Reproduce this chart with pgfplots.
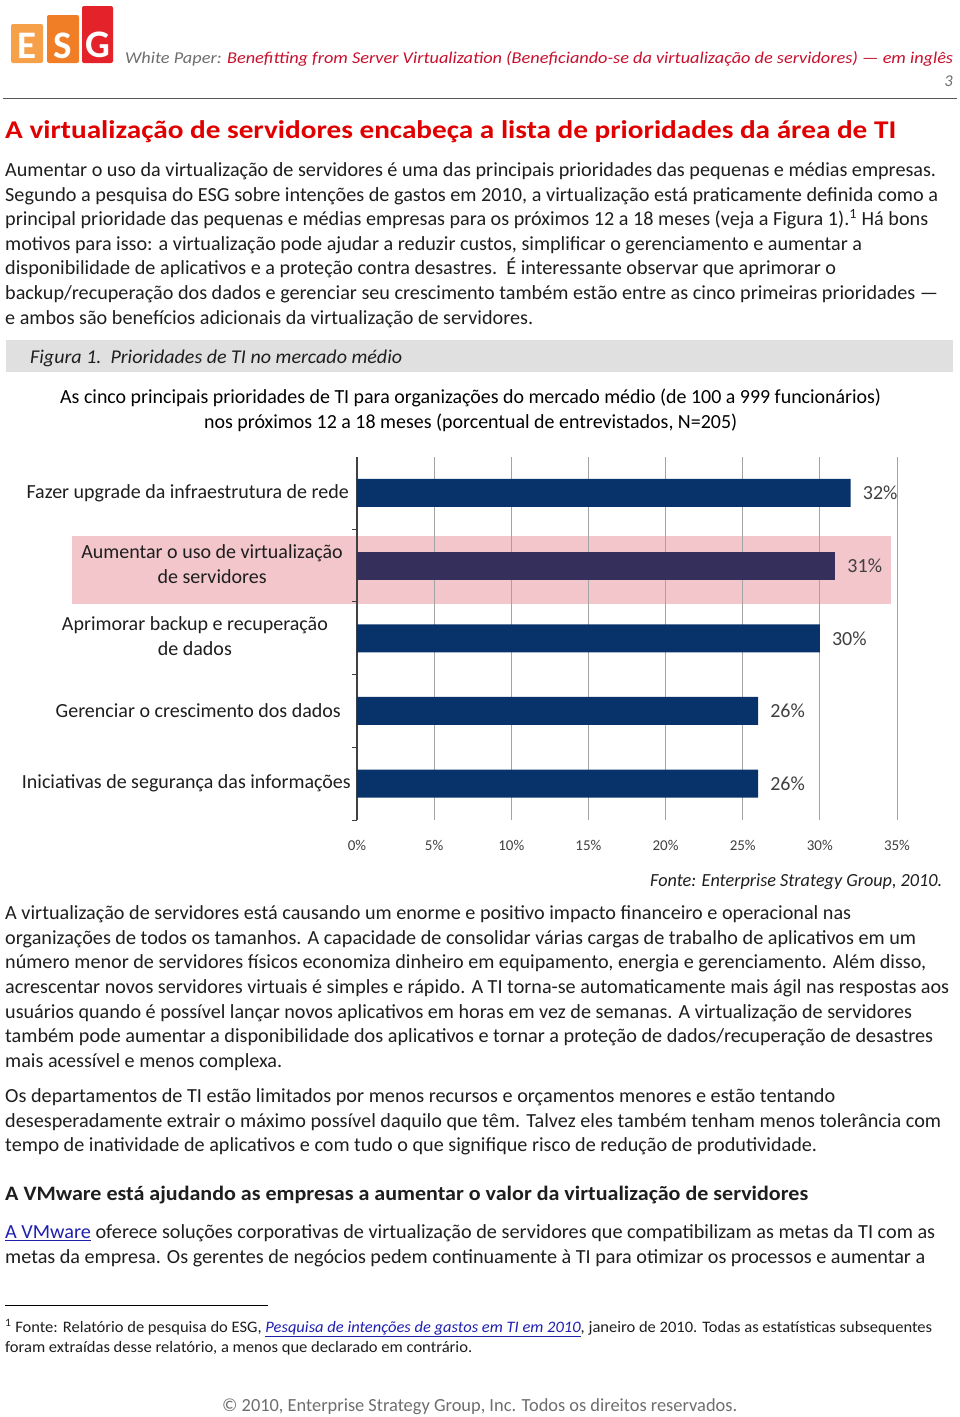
\documentclass[border=0pt]{standalone}
\usepackage{fontspec}
\setmainfont{Carlito}
\usepackage{graphicx}
\usepackage{pgfplots}
\pgfplotsset{compat=1.18}
\definecolor{esgred}{HTML}{C8102E}
\definecolor{headred}{HTML}{E00000}
\definecolor{bodytext}{HTML}{1E1E1E}
\definecolor{graytext}{HTML}{6E6E6E}
\definecolor{navybar}{HTML}{08336A}
\definecolor{purplebar}{HTML}{352F5C}
\definecolor{pinkband}{HTML}{F2C6CA}
\definecolor{capgray}{HTML}{E0E0E0}
\definecolor{lblgray}{HTML}{404040}
\definecolor{logoE}{HTML}{F6A04A}
\definecolor{logoS}{HTML}{F07E26}
\definecolor{logoG}{HTML}{E42229}
\definecolor{linkblue}{HTML}{1F1FB0}
\newsavebox\fitbox
\newlength\fitw
\newcommand\fitto[2]{\setlength\fitw{#1}\sbox\fitbox{#2}\pgfmathsetmacro\fsc{\fitw/\the\wd\fitbox}\scalebox{\fsc}[1]{\usebox\fitbox}}
\newcommand\jl[4]{\node[anchor=base west,inner sep=0pt] at (#1pt,-#3pt-1.5pt) {\fitto{\dimexpr#2pt-#1pt\relax}{#4}};}
\newcommand\fs[1]{\fontsize{#1}{#1}\selectfont}
\begin{document}
\begin{tikzpicture}
\fill[white] (0,0) rectangle (960pt,-1417pt);
\path[use as bounding box] (0,0) rectangle (960pt,-1417pt);
% logo
\fill[logoE,rounded corners=2pt] (11pt,-24pt) rectangle (43pt,-63pt);
\fill[logoS,rounded corners=2pt] (47pt,-15pt) rectangle (79pt,-63pt);
\fill[logoG,rounded corners=2pt] (82pt,-6pt) rectangle (113pt,-63pt);
\node[white,font=\bfseries\fs{39}] at (27pt,-46pt) {E};
\node[white,font=\bfseries\fs{39}] at (63pt,-46pt) {S};
\node[white,font=\bfseries\fs{39}] at (97.5pt,-45pt) {G};
% header
\begin{scope}[font=\itshape\fs{16.5}]
\jl{125}{953}{62}{\textcolor{graytext}{White Paper:} \textcolor{esgred}{Benefitting from Server Virtualization (Beneficiando-se da virtualização de servidores) — em inglês}}
\node[anchor=base east,inner sep=0pt,text=graytext] at (953pt,-86pt) {3};
\end{scope}
\draw[color=graytext!80!black,line width=1pt] (3pt,-98pt) -- (957pt,-98pt);
% heading
\begin{scope}[font=\bfseries\fs{25.5}, text=headred]
\jl{5}{896}{137}{A virtualização de servidores encabeça a lista de prioridades da área de TI}
\end{scope}
% paragraph 1
\begin{scope}[font=\fs{20}, text=bodytext]
\jl{5}{936}{175}{Aumentar o uso da virtualização de servidores é uma das principais prioridades das pequenas e médias empresas.}
\jl{5}{938}{199.6}{Segundo a pesquisa do ESG sobre intenções de gastos em 2010, a virtualização está praticamente definida como a}
\jl{5}{928}{224.2}{principal prioridade das pequenas e médias empresas para os próximos 12 a 18 meses (veja a Figura 1).\textsuperscript{1} Há bons}
\jl{5}{862}{248.8}{motivos para isso: a virtualização pode ajudar a reduzir custos, simplificar o gerenciamento e aumentar a}
\jl{5}{836}{273.4}{disponibilidade de aplicativos e a proteção contra desastres.\ \ É interessante observar que aprimorar o}
\jl{5}{938}{298}{backup/recuperação dos dados e gerenciar seu crescimento também estão entre as cinco primeiras prioridades —}
\jl{5}{533}{322.6}{e ambos são benefícios adicionais da virtualização de servidores.}
\end{scope}
% figure caption bar
\fill[capgray] (6pt,-340pt) rectangle (953pt,-372pt);
\begin{scope}[font=\itshape\fs{19.5}, text=bodytext]
\jl{30}{402}{362}{Figura 1.\ \ Prioridades de TI no mercado médio}
\end{scope}
% chart title
\begin{scope}[font=\fs{20}, text=black]
\jl{60}{881}{402}{As cinco principais prioridades de TI para organizações do mercado médio (de 100 a 999 funcionários)}
\jl{204}{737}{427}{nos próximos 12 a 18 meses (porcentual de entrevistados, N=205)}
\end{scope}
% highlight band
\fill[pinkband] (72pt,-536pt) rectangle (890.7pt,-604pt);
\begin{axis}[
  at={(357pt,-820pt)}, anchor=south west,
  scale only axis, width=540pt, height=363.5pt,
  xbar, bar width=28pt, bar shift=0pt,
  xmin=0, xmax=35, ymin=-0.5, ymax=4.5,
  /pgf/number format/assume math mode=true,
  xtick={0,5,...,35},
  xticklabel={\pgfmathprintnumber{\tick}\%},
  xticklabel style={font=\fs{15}, text=lblgray, yshift=-17pt},
  xmajorgrids, major grid style={color=black!36, line width=0.8pt},
  ytick={0,1,2,3,4},
  yticklabels={
    {Iniciativas de segurança das informações},
    {Gerenciar o crescimento dos dados\hspace*{10pt}},
    {\begin{tabular}{@{}c@{}}Aprimorar backup e recuperação\\de dados\end{tabular}\hspace*{23pt}},
    {\begin{tabular}{@{}c@{}}Aumentar o uso de virtualização\\de servidores\end{tabular}\hspace*{8pt}},
    {Fazer upgrade da infraestrutura de rede\hspace*{2pt}}},
  yticklabel style={font=\fontsize{20}{25}\selectfont, text=bodytext, inner sep=0pt, xshift=-6pt},
  major tick length=0pt,
  minor ytick={-0.5,0.5,1.5,2.5,3.5},
  minor tick length=5pt, tick align=outside,
  axis y line*=left, axis x line*=bottom,
  x axis line style={draw=none},
  y axis line style={draw=black!75, line width=1.3pt},
  every minor tick/.style={draw=black!75, line width=1pt},
  nodes near coords={\pgfmathprintnumber{\pgfplotspointmeta}\%},
  nodes near coords style={anchor=west, inner sep=0pt, xshift=12pt, font=\fs{20}, text=lblgray},
  point meta=x,
  clip=false,
]
\addplot[fill=navybar, draw=none] coordinates {(32,4) (30,2) (26,1) (26,0)};
\addplot[fill=purplebar, draw=none] coordinates {(31,3)};
\end{axis}
% source
\begin{scope}[font=\itshape\fs{18.5}, text=bodytext]
\jl{650}{942}{885}{Fonte: Enterprise Strategy Group, 2010.}
\end{scope}
% paragraphs 2-4
\begin{scope}[font=\fs{20}, text=bodytext]
\jl{5}{851}{918}{A virtualização de servidores está causando um enorme e positivo impacto financeiro e operacional nas}
\jl{5}{916}{943}{organizações de todos os tamanhos. A capacidade de consolidar várias cargas de trabalho de aplicativos em um}
\jl{5}{926}{967}{número menor de servidores físicos economiza dinheiro em equipamento, energia e gerenciamento. Além disso,}
\jl{5}{949}{992}{acrescentar novos servidores virtuais é simples e rápido. A TI torna-se automaticamente mais ágil nas respostas aos}
\jl{5}{912}{1017}{usuários quando é possível lançar novos aplicativos em horas em vez de semanas. A virtualização de servidores}
\jl{5}{933}{1041}{também pode aumentar a disponibilidade dos aplicativos e tornar a proteção de dados/recuperação de desastres}
\jl{5}{282}{1066}{mais acessível e menos complexa.}
\jl{5}{835}{1101}{Os departamentos de TI estão limitados por menos recursos e orçamentos menores e estão tentando}
\jl{5}{941}{1126}{desesperadamente extrair o máximo possível daquilo que têm. Talvez eles também tenham menos tolerância com}
\jl{5}{817}{1150}{tempo de inatividade de aplicativos e com tudo o que signifique risco de redução de produtividade.}
\jl{5}{935}{1237}{\textcolor{linkblue}{\underline{A VMware}} oferece soluções corporativas de virtualização de servidores que compatibilizam as metas da TI com as}
\jl{5}{925}{1262}{metas da empresa. Os gerentes de negócios pedem continuamente à TI para otimizar os processos e aumentar a}
\end{scope}
\begin{scope}[font=\bfseries\fs{20.5}, text=bodytext]
\jl{5}{808}{1199}{A VMware está ajudando as empresas a aumentar o valor da virtualização de servidores}
\end{scope}
% footnote
\draw[black, line width=1pt] (5pt,-1305pt) -- (268pt,-1305pt);
\begin{scope}[font=\fs{16}, text=bodytext]
\jl{5}{932}{1331}{\textsuperscript{1} Fonte: Relatório de pesquisa do ESG, \textcolor{linkblue}{\underline{\itshape Pesquisa de intenções de gastos em TI em 2010}}, janeiro de 2010. Todas as estatísticas subsequentes}
\jl{5}{472}{1351}{foram extraídas desse relatório, a menos que declarado em contrário.}
\end{scope}
% footer
\begin{scope}[font=\fs{18.5}, text=graytext]
\jl{222}{737}{1410}{© 2010, Enterprise Strategy Group, Inc. Todos os direitos reservados.}
\end{scope}
\end{tikzpicture}
\end{document}
